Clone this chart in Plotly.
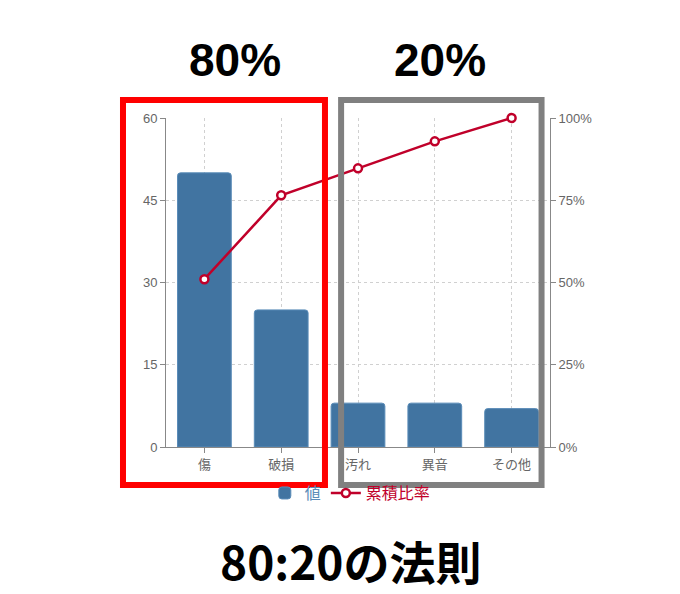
import plotly.graph_objects as go

# Pareto data
categories = ["傷", "破損", "汚れ", "異音", "その他"]
values = [50, 25, 8, 8, 7]
cum_ratio = [51.0, 76.5, 84.7, 92.9, 100.0]

y_ticks = [0, 15, 30, 45, 60]
y2_ticks = [0, 25, 50, 75, 100]
y2_labels = ["0%", "25%", "50%", "75%", "100%"]

bar_color = "#4174a1"
line_color = "#c0002a"
axis_gray = "#888888"
grid_gray = "#d0d0d0"
font_jp = "Noto Sans CJK JP"

fig = go.Figure()

fig.add_trace(go.Bar(
    x=categories, y=values, name="<span style='color:#5a8cb8'>値</span>",
    width=0.7,
    marker=dict(color=bar_color, line=dict(color="#5a8cb8", width=1), cornerradius=3),
))

fig.add_trace(go.Scatter(
    x=categories, y=cum_ratio, name="<span style='color:%s'>累積比率</span>" % line_color,
    yaxis="y2", mode="lines+markers", cliponaxis=False,
    line=dict(color=line_color, width=2.5),
    marker=dict(color="white", size=8, line=dict(color=line_color, width=2.5)),
))

# 80% / 20% boxes
fig.add_shape(type="rect", xref="paper", yref="paper",
              x0=-0.112, x1=0.414, y0=-0.1155, y1=1.055,
              line=dict(color="#ff0000", width=6), layer="above")
fig.add_shape(type="rect", xref="paper", yref="paper",
              x0=0.456, x1=0.978, y0=-0.1155, y1=1.055,
              line=dict(color="#808080", width=6), layer="above")

for txt, xp in [("80%", 0.179), ("20%", 0.714)]:
    fig.add_annotation(text="<b>%s</b>" % txt, xref="paper", yref="paper",
                       x=xp, y=1.176, xanchor="center", yanchor="middle", showarrow=False,
                       font=dict(family="Liberation Sans", size=46, color="black"))
fig.add_annotation(text="<b>80:20の法則</b>", xref="paper", yref="paper",
                   x=0.482, y=-0.343, xanchor="center", yanchor="middle", showarrow=False,
                   font=dict(family=font_jp, size=46, color="black"))

fig.update_layout(
    width=680, height=594,
    margin=dict(l=158, r=138, t=110, b=155),
    paper_bgcolor="white", plot_bgcolor="white",
    font=dict(family=font_jp, size=13, color="#666666"),
    showlegend=True,
    legend=dict(orientation="h", x=0.48, xanchor="center", y=-0.14, yanchor="middle",
                font=dict(size=16), bgcolor="rgba(0,0,0,0)"),
    xaxis=dict(
        showline=True, linecolor=axis_gray, ticks="outside", ticklen=5, tickcolor=axis_gray,
        showgrid=True, gridcolor=grid_gray, griddash="3px,3px",
        tickfont=dict(size=13, color="#666666"),
    ),
    yaxis=dict(
        range=[0, 60], tickvals=y_ticks,
        showline=True, linecolor=axis_gray, ticks="outside", ticklen=5, tickcolor=axis_gray,
        showgrid=True, gridcolor=grid_gray, griddash="3px,3px", zeroline=False,
        tickfont=dict(family="Liberation Sans", size=13, color="#666666"),
    ),
    yaxis2=dict(
        range=[0, 100], tickvals=y2_ticks, ticktext=y2_labels,
        overlaying="y", side="right",
        showline=True, linecolor=axis_gray, ticks="outside", ticklen=5, tickcolor=axis_gray,
        showgrid=False, zeroline=False,
        tickfont=dict(family="Liberation Sans", size=13, color="#666666"),
    ),
)

fig.write_html("out.html")
